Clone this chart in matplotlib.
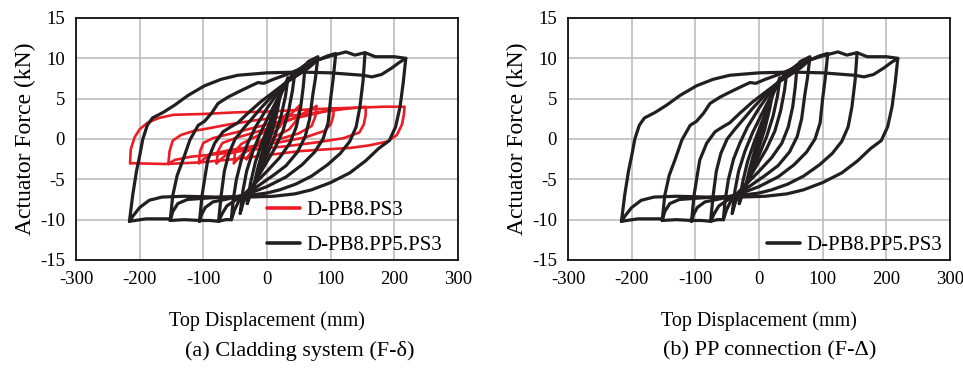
import matplotlib
matplotlib.use('Agg')
import numpy as np
import matplotlib.pyplot as plt

plt.rcParams['font.family'] = ['Liberation Serif', 'DejaVu Serif']
plt.rcParams['axes.unicode_minus'] = False

# hysteresis loops of D-PB8.PP5.PS3 (disp mm, force kN)
LOOP_216 = [(-216, -10.2), (-211, -7), (-205, -4), (-200, -2.1), (-195, 0), (-188, 1.7),
            (-180, 2.6), (-163, 3.3), (-145, 4.2), (-124, 5.4), (-98, 6.6), (-72, 7.4),
            (-46, 7.9), (0, 8.2), (50, 8.3), (100, 8.2), (150, 7.9), (165, 7.7),
            (180, 8.0), (196, 8.8), (208, 9.5), (218, 10.0),
            (214, 7), (209, 4), (202, 1.5), (192, -0.2), (175, -1.2), (155, -2.7),
            (130, -4.2), (100, -5.4), (70, -6.3), (44, -6.8), (10, -7.1), (-30, -7.2),
            (-80, -7.2), (-130, -7.1), (-165, -7.2), (-185, -7.6), (-200, -8.5),
            (-210, -9.5), (-216, -10.2)]
LOOP_150 = [(-152, -10.1), (-148, -7), (-141, -4.5), (-132, -2.6), (-121, -0.1),
            (-108, 1.7), (-98, 2.2), (-87, 3.2), (-77, 4.4), (-61, 5.2), (-46, 5.8),
            (-25, 6.6), (-14, 7.0), (-5, 6.9), (10, 7.4), (38, 8.2), (60, 9.0),
            (80, 9.8), (100, 10.3), (124, 10.8), (138, 10.4), (154, 10.7),
            (151, 7.3), (146, 4), (140, 1.5), (130, -0.3), (115, -1.8), (95, -3.2),
            (70, -4.6), (45, -5.6), (20, -6.3), (0, -6.7), (-40, -7.1), (-90, -7.3),
            (-125, -7.5), (-140, -8), (-148, -9), (-152, -10.1)]
LOOP_105 = [(-106, -10.2), (-102, -7), (-97, -4.5), (-93, -2.6), (-82, -0.5),
            (-69, 0.9), (-57, 1.5), (-46, 2), (-30, 3.2), (-10, 4.6), (10, 5.8),
            (30, 7), (50, 8), (65, 8.8), (80, 9.8), (95, 10.3), (108, 10.6),
            (104, 7.5), (100, 5), (96, 2), (88, 0), (75, -1.6), (55, -3.2),
            (30, -4.7), (0, -5.9), (-30, -6.8), (-60, -7.4), (-85, -7.8),
            (-97, -8.5), (-103, -9.4), (-106, -10.2)]
LOOP_75 = [(-76, -10.2), (-72, -7), (-67, -4), (-60, -1.8), (-50, 0), (-38, 1.2),
           (-25, 2.4), (-10, 3.8), (10, 5.5), (30, 7), (45, 8), (55, 8.7),
           (65, 9.6), (80, 10.2),
           (76, 7.5), (72, 5.5), (67, 2.5), (60, 0.3), (48, -1.6), (30, -3.3),
           (10, -4.5), (-10, -5.6), (-30, -6.7), (-50, -7.6), (-63, -8.3),
           (-70, -9.2), (-76, -10.2)]
LOOP_55 = [(-56, -10), (-53, -7.5), (-48, -5), (-40, -2.5), (-30, -0.5), (-18, 1.5),
           (0, 3.8), (15, 5.5), (30, 7), (45, 8.3), (60, 9.2),
           (57, 6.5), (53, 4), (46, 1.5), (36, -0.5), (20, -2.3), (0, -4),
           (-20, -5.6), (-35, -6.8), (-45, -7.8), (-51, -8.8), (-56, -10)]
LOOP_40 = [(-42, -9.2), (-38, -6.5), (-32, -4), (-22, -1.5), (-10, 0.8), (5, 3.2),
           (20, 5.5), (33, 7.2), (44, 8.4),
           (40, 6), (34, 3.5), (25, 1), (12, -1.2), (-3, -3.2), (-18, -5.2),
           (-30, -6.8), (-37, -7.8), (-42, -9.2)]
LOOP_30 = [(-31, -8), (-26, -5.5), (-18, -2.8), (-8, -0.5), (5, 2.2), (17, 4.5),
           (26, 6.3), (33, 7.6),
           (29, 5.3), (22, 2.8), (12, 0.3), (0, -2), (-12, -4.2), (-23, -6.2), (-31, -8)]
LOOP_20 = [(-22, -6.2), (-15, -3.8), (-6, -1.2), (4, 1.5), (13, 3.8), (22, 6),
           (17, 3.8), (9, 1.2), (0, -1), (-10, -3.5), (-22, -6.2)]
LOOP_10 = [(-12, -4), (-5, -1.5), (3, 1), (12, 4), (6, 1.8), (-2, -0.8), (-12, -4)]
ENVELOPE_TOP = [(154, 10.7), (170, 10.2), (200, 10.2), (218, 10.0)]
ENVELOPE_BOT = [(-216, -10.2), (-190, -9.9), (-152, -9.9), (-152, -10.1),
                (-130, -10.0), (-106, -10.1), (-90, -10.1), (-76, -10.2),
                (-65, -10.0), (-56, -10.0)]

# hysteresis loops of D-PB8.PS3
RED_215 = [(-215, -3), (-214, -1.3), (-208, 0.2), (-200, 1.2), (-188, 2), (-170, 2.6),
           (-147, 3), (-100, 3.1), (-50, 3.3), (0, 3.4), (50, 3.6), (105, 3.8),
           (150, 3.9), (183, 4.0), (216, 4.0),
           (215, 3), (212, 1.8), (204, 0.5), (190, -0.3), (160, -0.8), (131, -1.1),
           (90, -1.3), (52, -1.5), (0, -2.0), (-52, -2.5), (-105, -2.9),
           (-160, -3.1), (-215, -3)]
RED_150 = [(-155, -3.1), (-153, -1.5), (-148, -0.2), (-135, 0.5), (-115, 1.0),
           (-100, 1.2), (-60, 1.8), (-20, 2.3), (30, 2.8), (80, 3.3), (120, 3.7),
           (155, 4.0),
           (155, 3), (152, 1.8), (145, 0.8), (120, 0.1), (80, -0.4), (30, -0.9),
           (-20, -1.3), (-70, -1.8), (-120, -2.2), (-145, -2.6), (-155, -3.1)]
RED_105 = [(-107, -3), (-105, -1.5), (-100, -0.5), (-85, 0.1), (-60, 0.6), (-30, 1.2),
           (0, 1.8), (40, 2.5), (80, 3.2), (105, 3.8),
           (104, 2.8), (100, 1.8), (90, 1), (60, 0.2), (20, -0.4), (-20, -0.9),
           (-60, -1.4), (-90, -1.9), (-107, -3)]
RED_75 = [(-79, -3), (-77, -1.5), (-70, -0.5), (-50, 0.1), (-20, 0.8), (10, 1.5),
          (40, 2.5), (65, 3.5), (78, 4.1),
          (76, 2.8), (70, 1.6), (50, 0.7), (20, 0), (-10, -0.6), (-40, -1.3),
          (-65, -2), (-79, -3)]
RED_50 = [(-52, -3), (-50, -1.5), (-40, -0.6), (-20, 0.2), (5, 1.2), (30, 2.5),
          (52, 4.2), (48, 2.5), (35, 1.2), (10, 0.2), (-15, -0.8), (-38, -1.8), (-52, -3)]
RED_30 = [(-32, -2.5), (-20, -1), (0, 0.5), (15, 1.8), (32, 3.2),
          (20, 1.5), (0, 0), (-18, -1), (-32, -2.5)]

BLACK_LOOPS = [LOOP_216, LOOP_150, LOOP_105, LOOP_75, LOOP_55, LOOP_40, LOOP_30,
               LOOP_20, LOOP_10, ENVELOPE_TOP, ENVELOPE_BOT]
RED_LOOPS = [RED_215, RED_150, RED_105, RED_75, RED_50, RED_30]

X_TICKS = [-300, -200, -100, 0, 100, 200, 300]
Y_TICKS = [-15, -10, -5, 0, 5, 10, 15]

BLACK = '#231f20'
RED = '#ed1c24'


def draw_loops(ax, loops, color, lw, label):
    for i, loop in enumerate(loops):
        pts = np.array(loop, dtype=float)
        ax.plot(pts[:, 0], pts[:, 1], color=color, lw=lw,
                solid_joinstyle='round', solid_capstyle='round',
                label=label if i == 0 else None)


def style_axes(ax):
    ax.set_xlim(-300, 300)
    ax.set_ylim(-15, 15)
    ax.set_xticks(X_TICKS)
    ax.set_yticks(Y_TICKS)
    ax.grid(True, color='#bdbdbd', lw=1.2)
    ax.set_axisbelow(True)
    ax.tick_params(length=0, labelsize=13.5, pad=8)
    for s in ax.spines.values():
        s.set_linewidth(1.2)
        s.set_color('black')
    ax.set_xlabel('Top Displacement (mm)', fontsize=14.5, labelpad=17)
    ax.set_ylabel('Actuator Force (kN)', fontsize=17, labelpad=3)


fig = plt.figure(figsize=(9.63, 3.68), dpi=100)
ax1 = fig.add_axes([0.0789, 0.2935, 0.3967, 0.6576])
ax2 = fig.add_axes([0.5898, 0.2935, 0.3967, 0.6576])

draw_loops(ax1, RED_LOOPS, RED, 1.9, 'D-PB8.PS3')
draw_loops(ax1, BLACK_LOOPS, BLACK, 2.3, 'D-PB8.PP5.PS3')
draw_loops(ax2, BLACK_LOOPS, BLACK, 2.3, 'D-PB8.PP5.PS3')

for ax in (ax1, ax2):
    style_axes(ax)

leg1 = ax1.legend(loc='lower left', bbox_to_anchor=(0.50, 0.02), frameon=False,
                  fontsize=15, handlelength=1.6, handletextpad=0.3,
                  labelspacing=0.75, borderpad=0, borderaxespad=0)
leg2 = ax2.legend(loc='lower left', bbox_to_anchor=(0.52, 0.02), frameon=False,
                  fontsize=15, handlelength=1.6, handletextpad=0.3,
                  borderpad=0, borderaxespad=0)
for leg in (leg1, leg2):
    for h in leg.legend_handles:
        h.set_linewidth(2.6)

fig.text(300 / 963, 1 - 351 / 368, '(a) Cladding system (F-\u03b4)', ha='center',
         va='center', fontsize=16)
fig.text(770 / 963, 1 - 351 / 368, '(b) PP connection (F-\u0394)', ha='center',
         va='center', fontsize=16)

fig.savefig('out.png', dpi=100)
